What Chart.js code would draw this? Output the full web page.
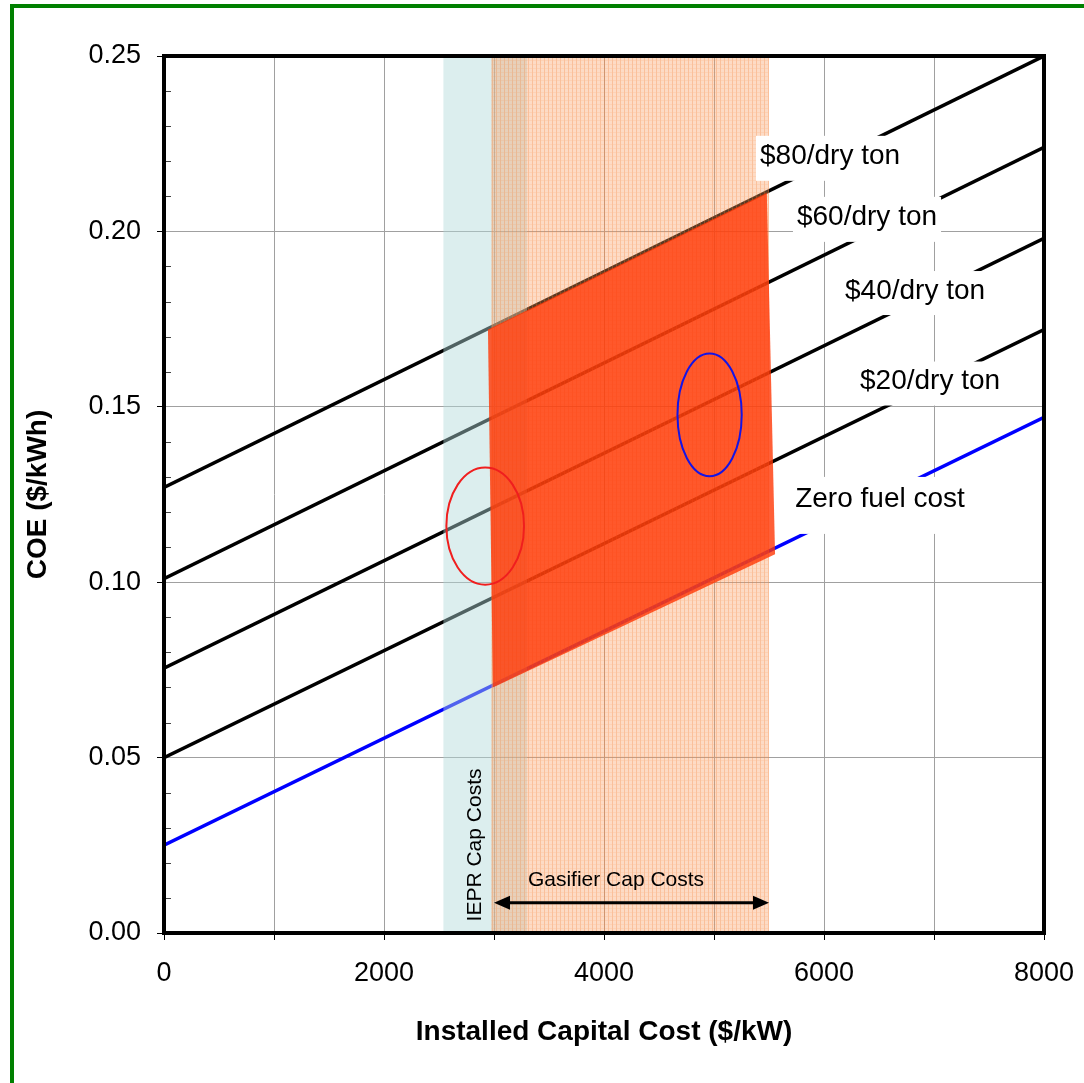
<!DOCTYPE html>
<html>
<head>
<meta charset="utf-8">
<script src="https://cdn.jsdelivr.net/npm/chart.js@4.4.1/dist/chart.umd.min.js"></script>
<style>
  html, body { margin: 0; padding: 0; background: #fff; overflow: hidden; }
  #frame { position: absolute; left: 10px; top: 4px; width: 1200px; height: 1200px;
           border-top: 4px solid #008000; border-left: 4px solid #008000; }
  #coe-chart { position: absolute; left: 0; top: 0; }
</style>
</head>
<body>
<div id="frame"></div>
<canvas id="coe-chart" width="1084" height="1083"></canvas>
<script>
// data
const fuelLabels = ["Zero fuel cost", "$20/dry ton", "$40/dry ton", "$60/dry ton", "$80/dry ton"];
const capCostRange = [0, 8000];
const coeAtZeroCap = [0.025, 0.050, 0.0755, 0.101, 0.127];
const coeAtMaxCap = [0.147, 0.172, 0.198, 0.224, 0.250];
const xTickLabels = ["0", "2000", "4000", "6000", "8000"];
const yTickLabels = ["0.00", "0.05", "0.10", "0.15", "0.20", "0.25"];

// shaded ranges
const ieprCapRange = [2540, 3300];
const gasifierCapRange = [2975, 5500];
const overlapCapCost = [2945, 5480, 5555, 2990];
const overlapCoe = [0.172, 0.211, 0.108, 0.070];

// circled spots (red, blue)
const spotCapCost = [2920, 4960];
const spotCoe = [0.1160, 0.1477];

// label placement (data units) and look
const lineLabelSpots = [
  { x: 6509, y: 0.1236, boxH: 57, boxShift: 6 },
  { x: 6964, y: 0.1572, boxH: 44, boxShift: 2 },
  { x: 6828, y: 0.1830, boxH: 44, boxShift: 2 },
  { x: 6391, y: 0.2040, boxH: 45, boxShift: 2 },
  { x: 6055, y: 0.2214, boxH: 45, boxShift: 2 },
];
const spotStyle = [
  { rx: 353, ry: 0.0167, color: "#f01e1e" },
  { rx: 292, ry: 0.0175, color: "#1414e6" },
];

const FONT = '"Liberation Sans", Arial, sans-serif';
Chart.defaults.font.family = FONT;
Chart.defaults.color = "#000";

const isListed = (list, text) => list.includes(text);

// light striped fill for the gasifier band
function stripePattern(ctx) {
  const c = document.createElement("canvas");
  c.width = 4;
  c.height = 4;
  const p = c.getContext("2d");
  p.fillStyle = "rgba(250,155,95,0.36)";
  p.fillRect(0, 0, 4, 4);
  p.fillStyle = "rgba(245,130,60,0.30)";
  p.fillRect(0, 0, 1, 4);
  p.fillStyle = "rgba(245,130,60,0.12)";
  p.fillRect(1, 0, 3, 1);
  return ctx.createPattern(c, "repeat");
}

const overlayPlugin = {
  id: "overlay",
  afterDatasetsDraw(chart) {
    const { ctx, chartArea: a, scales: { x, y } } = chart;
    const px = (v) => x.getPixelForValue(v);
    const py = (v) => y.getPixelForValue(v);
    ctx.save();

    // IEPR band
    ctx.fillStyle = "rgba(178,218,218,0.45)";
    ctx.fillRect(px(ieprCapRange[0]), a.top, px(ieprCapRange[1]) - px(ieprCapRange[0]), a.bottom - a.top);

    // gasifier band
    ctx.fillStyle = stripePattern(ctx);
    ctx.fillRect(px(gasifierCapRange[0]), a.top, px(gasifierCapRange[1]) - px(gasifierCapRange[0]), a.bottom - a.top);

    // overlap
    ctx.beginPath();
    overlapCapCost.forEach((c, i) => {
      if (i === 0) ctx.moveTo(px(c), py(overlapCoe[i]));
      else ctx.lineTo(px(c), py(overlapCoe[i]));
    });
    ctx.closePath();
    ctx.fillStyle = "rgba(255,55,5,0.8)";
    ctx.fill();

    // ellipses
    spotCapCost.forEach((c, i) => {
      const s = spotStyle[i];
      const cx = px(c), cy = py(spotCoe[i]);
      ctx.beginPath();
      ctx.ellipse(cx, cy, px(c + s.rx) - cx, cy - py(spotCoe[i] + s.ry), 0, 0, Math.PI * 2);
      ctx.strokeStyle = s.color;
      ctx.lineWidth = 2;
      ctx.stroke();
    });

    // gasifier arrow
    const ay = py(0.0086);
    const ax0 = px(gasifierCapRange[0] + 25), ax1 = px(gasifierCapRange[1]);
    ctx.strokeStyle = "#000";
    ctx.fillStyle = "#000";
    ctx.lineWidth = 3;
    ctx.beginPath();
    ctx.moveTo(ax0 + 10, ay);
    ctx.lineTo(ax1 - 10, ay);
    ctx.stroke();
    [[ax0, 1], [ax1, -1]].forEach(([tipX, dir]) => {
      ctx.beginPath();
      ctx.moveTo(tipX, ay);
      ctx.lineTo(tipX + dir * 16, ay - 7);
      ctx.lineTo(tipX + dir * 16, ay + 7);
      ctx.closePath();
      ctx.fill();
    });

    ctx.font = "21px " + FONT;
    ctx.textAlign = "center";
    ctx.textBaseline = "middle";
    ctx.fillText("Gasifier Cap Costs", px(4109), py(0.0150));

    ctx.save();
    ctx.translate(px(2827), py(0.0251));
    ctx.rotate(-Math.PI / 2);
    ctx.fillText("IEPR Cap Costs", 0, 0);
    ctx.restore();

    // line labels on white boxes
    ctx.font = "28px " + FONT;
    fuelLabels.forEach((label, i) => {
      const spot = lineLabelSpots[i];
      const tx = px(spot.x), ty = py(spot.y);
      const w = ctx.measureText(label).width + 8;
      ctx.fillStyle = "#fff";
      ctx.fillRect(tx - w / 2, ty + spot.boxShift - spot.boxH / 2, w, spot.boxH);
      ctx.fillStyle = "#000";
      ctx.fillText(label, tx, ty);
    });

    ctx.restore();
  },
  afterDraw(chart) {
    const { ctx, chartArea: a, scales: { y } } = chart;
    ctx.save();
    // minor inward ticks on the y axis
    ctx.strokeStyle = "#444";
    ctx.lineWidth = 1;
    y.ticks.forEach((t) => {
      if (isListed(yTickLabels, t.value.toFixed(2))) return;
      const yy = Math.round(y.getPixelForValue(t.value)) + 0.5;
      ctx.beginPath();
      ctx.moveTo(a.left, yy);
      ctx.lineTo(a.left + 7, yy);
      ctx.stroke();
    });
    // plot frame
    ctx.strokeStyle = "#000";
    ctx.lineWidth = 4;
    ctx.strokeRect(a.left, a.top, a.right - a.left, a.bottom - a.top);
    ctx.restore();
  },
};

const ctx = document.getElementById("coe-chart").getContext("2d");

new Chart(ctx, {
  type: "scatter",
  data: {
    datasets: fuelLabels.map((label, i) => ({
      label,
      data: [
        { x: capCostRange[0], y: coeAtZeroCap[i] },
        { x: capCostRange[1], y: coeAtMaxCap[i] },
      ],
      showLine: true,
      borderColor: i === 0 ? "#0000ff" : "#000",
      borderWidth: 3.5,
      pointRadius: 0,
    })),
  },
  options: {
    responsive: false,
    animation: false,
    devicePixelRatio: 1,
    layout: { padding: { top: 56, right: 40, left: 0, bottom: 0 } },
    plugins: {
      legend: { display: false },
      tooltip: { enabled: false },
    },
    scales: {
      x: {
        type: "linear",
        min: 0,
        max: 8000,
        afterFit: (scale) => {
          scale.height = 150;
          scale.paddingLeft = 0;
          scale.paddingRight = 0;
        },
        ticks: {
          stepSize: 1000,
          autoSkip: false,
          maxRotation: 0,
          padding: 17,
          font: { size: 27 },
          callback: (v) => (isListed(xTickLabels, String(v)) ? String(v) : ""),
        },
        grid: { color: "#a0a0a0", tickColor: "#000", tickLength: 7, lineWidth: 1 },
        border: { display: false },
        title: {
          display: true,
          text: "Installed Capital Cost ($/kW)",
          font: { size: 28, weight: "bold" },
          padding: { top: 0, bottom: 34 },
        },
      },
      y: {
        min: 0,
        max: 0.25,
        afterFit: (scale) => {
          scale.width = 164;
          scale.paddingTop = 0;
          scale.paddingBottom = 0;
        },
        ticks: {
          stepSize: 0.01,
          autoSkip: false,
          padding: 16,
          font: { size: 27 },
          callback: (v) => (isListed(yTickLabels, v.toFixed(2)) ? v.toFixed(2) : ""),
        },
        grid: {
          color: (c) => (isListed(yTickLabels, c.tick.value.toFixed(2)) ? "#a0a0a0" : "rgba(0,0,0,0)"),
          tickColor: (c) => (isListed(yTickLabels, c.tick.value.toFixed(2)) ? "#000" : "rgba(0,0,0,0)"),
          tickLength: 7,
          lineWidth: 1,
        },
        border: { display: false },
        title: {
          display: true,
          text: "COE ($/kWh)",
          font: { size: 28, weight: "bold" },
          padding: { top: 21, bottom: 0 },
        },
      },
    },
  },
  plugins: [overlayPlugin],
});
</script>
</body>
</html>
